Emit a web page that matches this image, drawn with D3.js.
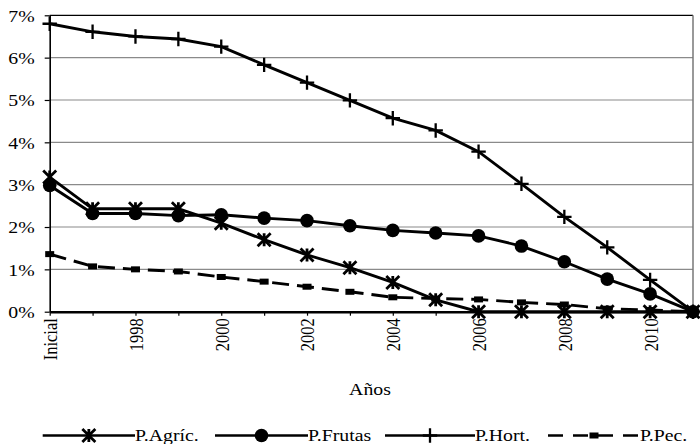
<!DOCTYPE html>
<html>
<head>
<meta charset="utf-8">
<script src="https://cdn.jsdelivr.net/npm/d3@7"></script>
<style>
  html, body { margin: 0; padding: 0; background: #fff; }
  svg { display: block; }
  text { font-family: "Liberation Serif", "Times New Roman", serif; fill: #000; }
</style>
</head>
<body>
<svg id="chart" width="700" height="444"></svg>
<script>
// Categories along the x axis
const years = ["Inicial", "1997", "1998", "1999", "2000", "2001", "2002", "2003",
               "2004", "2005", "2006", "2007", "2008", "2009", "2010", "2011"];
// Category labels that are printed (every other one)
const shownYears = ["Inicial", "1998", "2000", "2002", "2004", "2006", "2008", "2010"];
// y axis ticks
const yTicks = [0, 0.01, 0.02, 0.03, 0.04, 0.05, 0.06, 0.07];

// Series values (shares)
const agric  = [0.0318, 0.0243, 0.0243, 0.0243, 0.0209, 0.0170, 0.0134, 0.0104,
                0.0069, 0.0028, 0, 0, 0, 0, 0, 0];
const frutas = [0.0298, 0.0232, 0.0232, 0.0227, 0.0229, 0.0221, 0.0215, 0.0203,
                0.0192, 0.0186, 0.0179, 0.0155, 0.0118, 0.0077, 0.0042, 0];
const hort   = [0.0680, 0.0661, 0.0650, 0.0644, 0.0626, 0.0583, 0.0541, 0.0499,
                0.0457, 0.0428, 0.0378, 0.0302, 0.0224, 0.0152, 0.0075, 0];
const pec    = [0.0136, 0.0107, 0.0100, 0.0095, 0.0082, 0.0071, 0.0059, 0.0047,
                0.0034, 0.0031, 0.0029, 0.0022, 0.0017, 0.0007, 0.0004, 0];

const seriesNames = ["P.Agríc.", "P.Frutas", "P.Hort.", "P.Pec."];
const seriesValues = [agric, frutas, hort, pec];
const seriesMarkers = ["asterisk", "circle", "plus", "square"];
const seriesDash = [null, null, null, "17,8"];

const svg = d3.select("#chart");
const plotLeft = 49.7, plotRight = 693, plotTop = 15.3, plotBottom = 311.7;
const STRETCH = 1.2;   // text is drawn slightly wide

const x = d3.scalePoint().domain(years).range([plotLeft, plotRight]);
const y = d3.scaleLinear().domain([0, 0.07]).range([plotBottom, plotTop]);

// Gridlines
svg.append("g").selectAll("line")
  .data(yTicks.filter(d => d > 0))
  .join("line")
  .attr("x1", plotLeft).attr("x2", plotRight)
  .attr("y1", d => y(d)).attr("y2", d => y(d))
  .attr("stroke", d => d === 0.07 ? "#000" : "#8a8a8a")
  .attr("stroke-width", 1.2);

// Right border of plot area
svg.append("line")
  .attr("x1", plotRight).attr("x2", plotRight)
  .attr("y1", plotTop).attr("y2", plotBottom)
  .attr("stroke", "#777").attr("stroke-width", 1.5);

// Y axis
const yAxis = svg.append("g")
  .attr("transform", `translate(${plotLeft},0)`)
  .call(d3.axisLeft(y).tickValues(yTicks).tickFormat(d3.format(".0%")).tickSize(5).tickSizeOuter(0));
yAxis.select(".domain").attr("stroke", "#000").attr("stroke-width", 1.6);
yAxis.selectAll(".tick line").attr("stroke", "#000").attr("stroke-width", 1.2);
yAxis.selectAll(".tick text")
  .attr("x", null).attr("dy", "0.35em")
  .attr("transform", `translate(-15,0) scale(${STRETCH},1)`)
  .attr("text-anchor", "end")
  .style("font-size", "16.5px")
  .style("font-family", "'Liberation Serif', serif");

// X axis
const xAxis = svg.append("g")
  .attr("transform", `translate(0,${plotBottom})`)
  .call(d3.axisBottom(x).tickSize(4).tickSizeOuter(0)
        .tickFormat(d => shownYears.includes(d) ? d : ""));
xAxis.select(".domain").attr("stroke", "#000").attr("stroke-width", 2.5);
xAxis.selectAll(".tick line").attr("stroke", "#000").attr("stroke-width", 1.2);
xAxis.selectAll(".tick text")
  .attr("y", null)
  .attr("transform", `translate(0,6.5) scale(${STRETCH},1) rotate(-90)`)
  .attr("dy", "0.35em")
  .attr("text-anchor", "end")
  .style("font-size", "16.5px")
  .style("font-family", "'Liberation Serif', serif");

// Axis title
svg.append("text")
  .attr("transform", `translate(370,395) scale(${STRETCH},1)`)
  .attr("text-anchor", "middle")
  .style("font-size", "16.5px")
  .text("Años");

// Marker drawing helper
function drawMarker(g, type) {
  if (type === "asterisk") {
    const s = 6.5;
    g.append("path")
      .attr("d", `M0,${-s}V${s}M${-s},${-s}L${s},${s}M${-s},${s}L${s},${-s}`)
      .attr("stroke", "#000").attr("stroke-width", 2.8).attr("fill", "none");
  } else if (type === "circle") {
    g.append("circle").attr("r", 6.8).attr("fill", "#000");
  } else if (type === "plus") {
    const s = 7.2;
    g.append("path")
      .attr("d", `M0,${-s}V${s}M${-s},0H${s}`)
      .attr("stroke", "#000").attr("stroke-width", 2.3).attr("fill", "none");
  } else if (type === "square") {
    g.append("rect").attr("x", -4.5).attr("y", -3).attr("width", 9).attr("height", 6).attr("fill", "#000");
  }
}

const line = d3.line().x((d, i) => x(years[i])).y(d => y(d));

// Series lines and markers
seriesValues.forEach((vals, k) => {
  svg.append("path")
    .datum(vals)
    .attr("d", line)
    .attr("fill", "none")
    .attr("stroke", "#000")
    .attr("stroke-width", 2.9)
    .attr("stroke-dasharray", seriesDash[k]);
  const mg = svg.append("g");
  vals.forEach((v, i) => {
    const g = mg.append("g").attr("transform", `translate(${x(years[i])},${y(v)})`);
    drawMarker(g, seriesMarkers[k]);
  });
});

// Legend
const legendY = 435.5;
const legendItems = [
  { x0: 42.7, x1: 135, tx: 135 },
  { x0: 215, x1: 308, tx: 308 },
  { x0: 385, x1: 475, tx: 475 },
  { x0: 548, x1: 640, tx: 640 }
];
seriesNames.forEach((name, k) => {
  const it = legendItems[k];
  const g = svg.append("g");
  g.append("line")
    .attr("x1", it.x0).attr("x2", it.x1)
    .attr("y1", legendY).attr("y2", legendY)
    .attr("stroke", "#000").attr("stroke-width", 2.4)
    .attr("stroke-dasharray", seriesDash[k] ? "15,10" : null);
  const mg = g.append("g").attr("transform", `translate(${(it.x0 + it.x1) / 2},${legendY})`);
  drawMarker(mg, seriesMarkers[k]);
  g.append("text")
    .attr("transform", `translate(${it.tx},${legendY}) scale(${STRETCH},1)`)
    .attr("dy", "0.35em")
    .style("font-size", "16.5px")
    .text(name);
});
</script>
</body>
</html>
